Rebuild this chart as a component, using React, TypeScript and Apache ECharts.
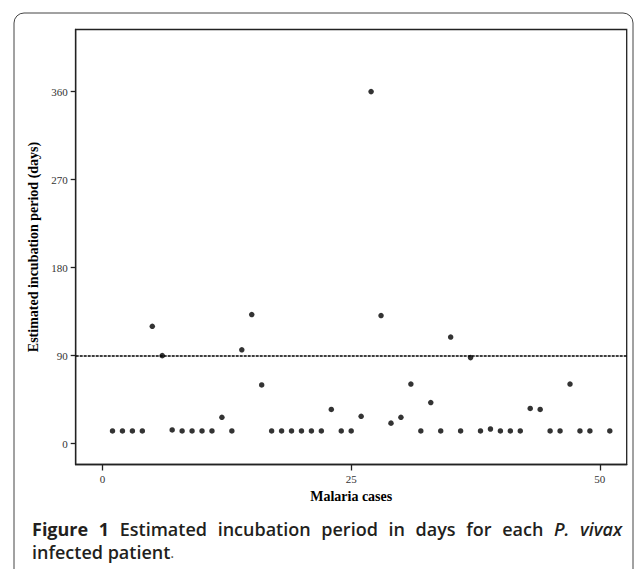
import React, { useEffect, useRef } from "react";
import * as echarts from "echarts";

const caseIds = [1, 2, 3, 4, 5, 6, 7, 8, 9, 10, 11, 12, 13, 14, 15, 16, 17, 18, 19, 20, 21, 22, 23, 24, 25, 26, 27, 28, 29, 30, 31, 32, 33, 34, 35, 36, 37, 38, 39, 40, 41, 42, 43, 44, 45, 46, 47, 48, 49, 51];
const incubationDays = [13, 13, 13, 13, 120, 90, 14, 13, 13, 13, 13, 27, 13, 96, 132, 60, 13, 13, 13, 13, 13, 13, 35, 13, 13, 28, 360, 131, 21, 27, 61, 13, 42, 13, 109, 13, 88, 13, 15, 13, 13, 13, 36, 35, 13, 13, 61, 13, 13, 13];
const yTicks = [0, 90, 180, 270, 360];
const xTicks = [0, 25, 50];
const referenceDays = 90;

const xTitle = "Malaria cases";
const yTitle = "Estimated incubation period (days)";

type Word = { t: string; w?: string; s?: string };
const captionLine1: Word[] = [
  { t: "Figure", w: "bold" },
  { t: "1", w: "bold" },
  { t: "Estimated" },
  { t: "incubation" },
  { t: "period" },
  { t: "in" },
  { t: "days" },
  { t: "for" },
  { t: "each" },
  { t: "P.", s: "italic" },
  { t: "vivax", s: "italic" },
];
const captionLine2 = "infected patient";

export default function App() {
  const ref = useRef<HTMLDivElement>(null);
  useEffect(() => {
    if (!ref.current) return;
    const chart = echarts.init(ref.current, null, { renderer: "svg" });
    const points = caseIds.map((c, i) => [c, incubationDays[i]]);
    const serif = "'Liberation Serif', 'DejaVu Serif', serif";
    const sans = "'Open Sans', 'Noto Sans', sans-serif";
    const capColor = "#231f20";
    const capSize = 18;
    const line1 = 529;
    const line2 = 551.5;
    const leftX = 32;
    const rightX = 622;

    const ctx = document.createElement("canvas").getContext("2d")!;
    const widthOf = (w: Word) => {
      ctx.font = `${w.s || "normal"} ${w.w || "600"} ${capSize}px ${sans}`;
      return ctx.measureText(w.t).width;
    };
    const widths = captionLine1.map(widthOf);
    const total = widths.reduce((a, b) => a + b, 0);
    const gap = (rightX - leftX - total) / (captionLine1.length - 1);
    let cx = leftX;
    const wordEls = captionLine1.map((w, i) => {
      const el = {
        type: "text",
        x: cx,
        y: line1,
        silent: true,
        style: {
          text: w.t,
          fontFamily: sans,
          fontWeight: w.w || 600,
          fontStyle: w.s || "normal",
          fontSize: capSize,
          lineHeight: 19,
          fill: capColor,
          verticalAlign: "middle",
        },
      };
      cx += widths[i] + gap;
      return el;
    });

    chart.setOption({
      animation: false,
      backgroundColor: "#fff",
      grid: {
        left: 75.7,
        top: 29.5,
        right: 8.3,
        bottom: 104.5,
        show: true,
        borderColor: "#222",
        borderWidth: 1.3,
        containLabel: false,
      },
      xAxis: {
        type: "value",
        min: -2.7,
        max: 52.7,
        name: xTitle,
        nameLocation: "middle",
        nameGap: 23,
        nameTextStyle: { fontFamily: serif, fontWeight: "bold", fontSize: 14, color: "#000", verticalAlign: "top" },
        axisLine: { show: true, onZero: false, lineStyle: { color: "#222", width: 1.3 } },
        axisTick: { show: true, length: 6, customValues: xTicks, lineStyle: { color: "#222", width: 1.3 } },
        axisLabel: { customValues: xTicks, margin: 9, fontFamily: serif, fontSize: 11, color: "#333" },
        splitLine: { show: false },
      },
      yAxis: {
        type: "value",
        min: -21.3,
        max: 423.5,
        name: yTitle,
        nameLocation: "middle",
        nameGap: 31,
        nameTextStyle: { fontFamily: serif, fontWeight: "bold", fontSize: 14, color: "#000" },
        axisLine: { show: true, onZero: false, lineStyle: { color: "#222", width: 1.3 } },
        axisTick: { show: true, length: 5, customValues: yTicks, lineStyle: { color: "#222", width: 1.3 } },
        axisLabel: { customValues: yTicks, margin: 8, fontFamily: serif, fontSize: 11, color: "#333" },
        splitLine: { show: false },
      },
      series: [
        {
          type: "scatter",
          data: points,
          symbol: "circle",
          symbolSize: 5.5,
          itemStyle: { color: "#000" },
          silent: true,
          markLine: {
            silent: true,
            symbol: "none",
            label: { show: false },
            lineStyle: { color: "#000", width: 1.5, type: [3, 1] },
            data: [{ yAxis: referenceDays }],
          },
        },
      ],
      graphic: [
        {
          type: "rect",
          shape: { x: 14, y: 13, width: 619, height: 620, r: 10 },
          style: { fill: "none", stroke: "#444", lineWidth: 1 },
          silent: true,
        },
        ...wordEls,
        {
          type: "text",
          x: leftX,
          y: line2,
          silent: true,
          style: {
            text: `{a|${captionLine2}}{b|.}`,
            fontFamily: sans,
            verticalAlign: "middle",
            lineHeight: 19,
            rich: {
              a: { fontFamily: sans, fontWeight: 600, fontSize: capSize, fill: capColor, lineHeight: 19 },
              b: { fontFamily: sans, fontWeight: "normal", fontSize: 15, fill: "#555", lineHeight: 19 },
            },
          },
        },
      ],
    });
    return () => chart.dispose();
  }, []);
  return <div ref={ref} style={{ position: "fixed", left: 0, top: 0, width: 635, height: 569 }} />;
}
